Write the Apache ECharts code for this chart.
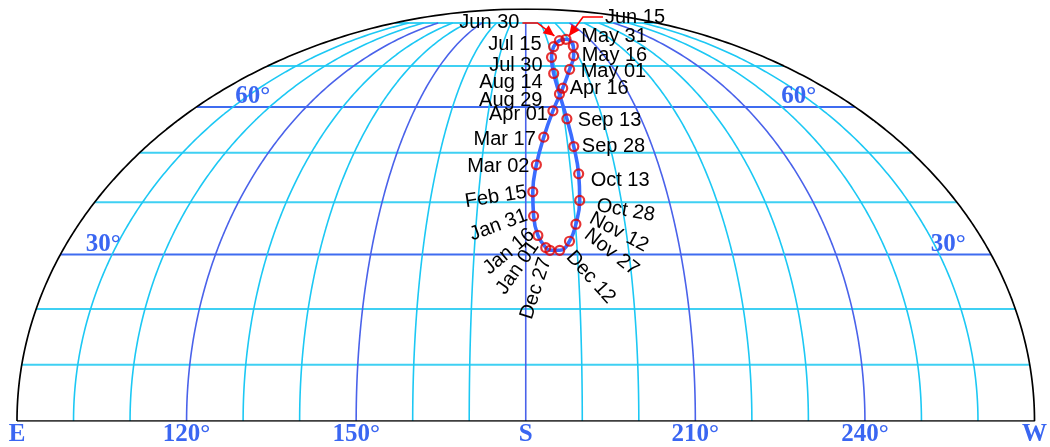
<!DOCTYPE html>
<html>
<head>
<meta charset="utf-8">
<script src="https://cdn.jsdelivr.net/npm/echarts@6/dist/echarts.min.js"></script>
<style>
  html, body { margin: 0; padding: 0; background: #ffffff; }
  #chart { width: 1050px; height: 447px; }
</style>
</head>
<body>
<div id="chart"></div>
<script>
// Sun position (azimuth / altitude, degrees) sampled every 15 days
const dates = ['Jan 01', 'Jan 16', 'Jan 31', 'Feb 15', 'Mar 02', 'Mar 17', 'Apr 01', 'Apr 16',
  'May 01', 'May 16', 'May 31', 'Jun 15', 'Jun 30', 'Jul 15', 'Jul 30', 'Aug 14', 'Aug 29',
  'Sep 13', 'Sep 28', 'Oct 13', 'Oct 28', 'Nov 12', 'Nov 27', 'Dec 12', 'Dec 27'];
const azimuth = [183.9, 182.4, 181.6, 181.5, 182.4, 184.4, 187.3, 191.1,
  194.9, 198.3, 200.3, 198.9, 195.5, 191.8, 189.7, 189.2, 189.8,
  190.7, 191.4, 191.7, 191.3, 190.1, 188.6, 186.6, 184.7];
const altitude = [31.3, 33.6, 37.3, 42.05, 47.5, 53.3, 59.1, 64.4,
  69.1, 72.7, 75.5, 77.5, 77.1, 75.3, 72.3, 68.05, 63.0,
  57.3, 51.3, 45.65, 40.35, 35.75, 32.5, 30.8, 30.8];

// Sky grid
const azTicks = [90, 120, 150, 180, 210, 240, 270];
const azTickNames = ['E', '120°', '150°', 'S', '210°', '240°', 'W'];
const azGrid = [100, 110, 120, 130, 140, 150, 160, 170, 180, 190, 200, 210, 220, 230, 240, 250, 260];
const altGrid = [10, 20, 30, 40, 50, 60, 70, 83];
const altLabelValues = [30, 60];

// ---- styling ----
const CYAN = '#1cc8f4';
const CYAN_H = '#3fd0f3';
const BLUE = '#4a62ea';
const BLUE_H = '#3f6cf0';
const LABEL_BLUE = '#3a66f2';

// label placement around each marker: anchor offset (px), alignment, rotation (deg)
const labelLayout = {
  'Jan 01': { dx: -28, dy: 20, align: 'center', rot: 55 },
  'Jan 16': { dx: -29, dy: 16, align: 'center', rot: 40 },
  'Jan 31': { dx: -35, dy: 9, align: 'center', rot: 20 },
  'Feb 15': { dx: -37, dy: 5, align: 'center', rot: 9 },
  'Mar 02': { dx: -7, dy: 2, align: 'right' },
  'Mar 17': { dx: -8, dy: 2, align: 'right' },
  'Apr 01': { dx: -5, dy: 4, align: 'right' },
  'Apr 16': { dx: 7, dy: 0, align: 'left' },
  'May 01': { dx: 11, dy: 2, align: 'left' },
  'May 16': { dx: 8, dy: 0, align: 'left' },
  'May 31': { dx: 8, dy: -10, align: 'left' },
  'Jun 15': { dx: 39, dy: -22, align: 'left', arrow: [[37, -22.3], [17, -22.3], [3, -3.3]] },
  'Jun 30': { dx: -40, dy: -18, align: 'right', arrow: [[-37, -17.7], [-22, -17.7], [-5, -4.7]] },
  'Jul 15': { dx: -12, dy: -2, align: 'right' },
  'Jul 30': { dx: -9, dy: 8, align: 'right' },
  'Aug 14': { dx: -11, dy: 9, align: 'right' },
  'Aug 29': { dx: -17, dy: 6, align: 'right' },
  'Sep 13': { dx: 11, dy: 2, align: 'left' },
  'Sep 28': { dx: 8, dy: 0, align: 'left' },
  'Oct 13': { dx: 12, dy: 7, align: 'left' },
  'Oct 28': { dx: 46, dy: 10, align: 'center', rot: -10 },
  'Nov 12': { dx: 43, dy: 8, align: 'center', rot: -28 },
  'Nov 27': { dx: 42, dy: 11, align: 'center', rot: -38 },
  'Dec 12': { dx: 31, dy: 27, align: 'center', rot: -48 },
  'Dec 27': { dx: -14, dy: 38, align: 'center', rot: 72 }
};
// azimuth at which the altitude labels sit (left, right)
const altLabelAz = { 30: [98.3, 261.7], 60: [105.4, 254.6] };

// ---- Mollweide-style projection of the southern half sky ----
function auxTheta(alt) {
  const phi = alt * Math.PI / 180;
  if (alt >= 90) return Math.PI / 2;
  let t = phi;
  const target = Math.PI * Math.sin(phi);
  for (let i = 0; i < 100; i++) {
    const f = 2 * t + Math.sin(2 * t) - target;
    const d = 2 + 2 * Math.cos(2 * t);
    if (Math.abs(f) < 1e-12 || d < 1e-12) break;
    t -= f / d;
  }
  return t;
}
function proj(az, alt) {
  const t = auxTheta(alt);
  return [180 + (az - 180) * Math.cos(t), Math.sin(t)];
}

const series = [];

// altitude circles (straight in this projection)
altGrid.forEach(function (a) {
  const major = a === 30 || a === 60;
  series.push({
    type: 'line', silent: true, symbol: 'none', animation: false,
    data: [proj(90, a), proj(270, a)],
    lineStyle: { color: major ? BLUE_H : CYAN_H, width: 2 },
    z: 1
  });
});

// azimuth meridians
const topAlt = altGrid[altGrid.length - 1];
azGrid.forEach(function (az) {
  const major = az % 30 === 0;
  const pts = [];
  for (let a = 0; a <= topAlt; a += 0.5) pts.push(proj(az, a));
  pts.push(proj(az, topAlt));
  series.push({
    type: 'line', silent: true, symbol: 'none', animation: false,
    data: pts,
    lineStyle: { color: major ? BLUE : CYAN, width: 1.6 },
    z: 1
  });
});

// outline: horizon + sky boundary
(function () {
  const pts = [];
  for (let a = 0; a <= 90; a += 0.5) pts.push(proj(90, a));
  for (let a = 90; a >= 0; a -= 0.5) pts.push(proj(270, a));
  pts.push(proj(90, 0));
  series.push({
    type: 'line', silent: true, symbol: 'none', animation: false,
    data: pts,
    lineStyle: { color: '#000000', width: 1.7 },
    z: 2
  });
})();

// analemma curve
const sunPts = dates.map(function (d, i) { return proj(azimuth[i], altitude[i]); });
series.push({
  type: 'line', silent: true, symbol: 'none', animation: false,
  data: sunPts.concat([sunPts[0]]),
  smooth: 0.45,
  lineStyle: { color: '#3b6cff', width: 3.6 },
  z: 3
});

// date markers
series.push({
  type: 'scatter', silent: true, animation: false,
  data: sunPts,
  symbol: 'circle', symbolSize: 9,
  itemStyle: { color: 'rgba(0,0,0,0)', borderColor: '#e00000', borderWidth: 2.2 },
  z: 4
});

// date labels and pointer arrows
series.push({
  type: 'custom', silent: true, animation: false,
  data: sunPts.map(function (p, i) { return [p[0], p[1], i]; }),
  encode: { x: 0, y: 1 },
  z: 5,
  renderItem: function (params, api) {
    const c = api.coord([api.value(0), api.value(1)]);
    const name = dates[api.value(2)];
    const L = labelLayout[name];
    const children = [];
    children.push({
      type: 'text',
      x: c[0] + L.dx, y: c[1] + L.dy,
      rotation: (L.rot || 0) * Math.PI / 180,
      style: {
        text: name, x: 0, y: 0,
        align: L.align, verticalAlign: 'middle',
        font: '20px "Liberation Sans", Arial, sans-serif',
        fill: '#000000'
      }
    });
    if (L.arrow) {
      const pts = L.arrow.map(function (o) { return [c[0] + o[0], c[1] + o[1]]; });
      children.push({
        type: 'polyline',
        shape: { points: pts },
        style: { stroke: '#ff0000', lineWidth: 1.6, fill: null }
      });
      const tip = pts[pts.length - 1], prev = pts[pts.length - 2];
      const ang = Math.atan2(tip[1] - prev[1], tip[0] - prev[0]);
      const len = 11, half = 5;
      const bx = tip[0] - len * Math.cos(ang), by = tip[1] - len * Math.sin(ang);
      children.push({
        type: 'polygon',
        shape: { points: [tip,
          [bx + half * Math.sin(ang), by - half * Math.cos(ang)],
          [bx - half * Math.sin(ang), by + half * Math.cos(ang)]] },
        style: { fill: '#ff0000' }
      });
    }
    return { type: 'group', children: children };
  }
});

// altitude labels
const altLabelData = [];
altLabelValues.forEach(function (a) {
  altLabelAz[a].forEach(function (az) {
    const p = proj(az, a);
    altLabelData.push([p[0], p[1], a]);
  });
});
series.push({
  type: 'custom', silent: true, animation: false,
  data: altLabelData,
  encode: { x: 0, y: 1 },
  z: 5,
  renderItem: function (params, api) {
    const c = api.coord([api.value(0), api.value(1)]);
    return {
      type: 'text',
      x: c[0], y: c[1] - 10.5,
      style: {
        text: api.value(2) + '°',
        align: 'center', verticalAlign: 'middle',
        font: 'bold 25px "Liberation Serif", "Times New Roman", serif',
        fill: LABEL_BLUE
      }
    };
  }
});

const chart = echarts.init(document.getElementById('chart'), null, { renderer: 'canvas' });
chart.setOption({
  backgroundColor: '#ffffff',
  animation: false,
  grid: { left: 17, right: 13, top: 9, bottom: 25, containLabel: false },
  xAxis: {
    type: 'value', min: 90, max: 270, interval: 30,
    axisLine: { show: false }, axisTick: { show: false }, splitLine: { show: false },
    axisLabel: {
      show: true, margin: 1,
      showMinLabel: true, showMaxLabel: true,
      color: LABEL_BLUE,
      fontFamily: '"Liberation Serif", "Times New Roman", serif',
      fontWeight: 'bold', fontSize: 25,
      formatter: function (v) {
        const i = azTicks.indexOf(Math.round(v));
        return i >= 0 ? azTickNames[i] : '';
      }
    }
  },
  yAxis: { type: 'value', min: 0, max: 1, show: false },
  series: series
});
</script>
</body>
</html>
